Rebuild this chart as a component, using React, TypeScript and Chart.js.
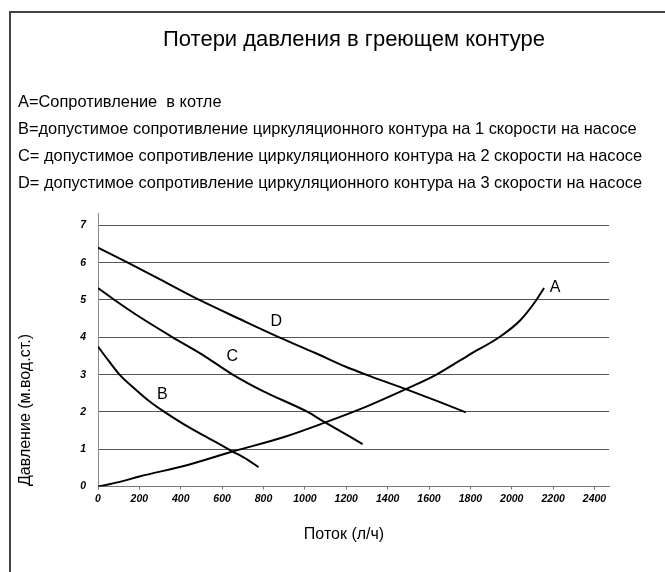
import React, { useEffect, useRef } from "react";
import { Chart, registerables } from "chart.js";

Chart.register(...registerables);

const chartTitle = "Потери давления в греющем контуре";
const legendLines = [
  "A=Сопротивление  в котле",
  "B=допустимое сопротивление циркуляционного контура на 1 скорости на насосе",
  "C= допустимое сопротивление циркуляционного контура на 2 скорости на насосе",
  "D= допустимое сопротивление циркуляционного контура на 3 скорости на насосе",
];
const xTitle = "Поток (л/ч)";
const yTitle = "Давление (м.вод.ст.)";

// Curve A: boiler resistance
const flowA = [0, 100, 200, 434, 651, 900, 1089, 1300, 1488, 1636, 1794, 1939, 2040, 2119, 2156];
const pressureA = [0, 0.12, 0.27, 0.58, 0.94, 1.33, 1.7, 2.15, 2.61, 3.0, 3.53, 4.0, 4.45, 5.0, 5.32];
// Curve B: pump speed 1
const flowB = [0, 50, 104, 184, 250, 321, 400, 490, 570, 651, 720, 776];
const pressureB = [3.75, 3.38, 3.0, 2.59, 2.28, 2.0, 1.72, 1.43, 1.19, 0.94, 0.73, 0.52];
// Curve C: pump speed 2
const flowC = [0, 80, 200, 361, 500, 651, 800, 1013, 1089, 1279];
const pressureC = [5.32, 5.0, 4.55, 4.0, 3.55, 3.0, 2.55, 2.0, 1.75, 1.14];
// Curve D: pump speed 3
const flowD = [0, 144, 300, 490, 700, 876, 1050, 1198, 1295, 1488, 1650, 1778];
const pressureD = [6.4, 6.0, 5.55, 5.0, 4.45, 4.0, 3.58, 3.21, 3.0, 2.61, 2.27, 1.99];

const curveNames = ["A", "B", "C", "D"];
const curveLabelFlow = [2209, 311, 649, 862];
const curveLabelPressure = [5.32, 2.46, 3.47, 4.41];

const xMin = 0;
const xMax = 2470;
const xStep = 200;
const yMin = 0;
const yMax = 7.33;
const yStep = 1;

const FONT = '"Liberation Sans", Arial, sans-serif';

const toPoints = (xs: number[], ys: number[]) => xs.map((x, i) => ({ x, y: ys[i] }));

const overlay = {
  id: "overlay",
  afterDraw(chart: any) {
    const ctx = chart.ctx as CanvasRenderingContext2D;
    ctx.save();
    ctx.fillStyle = "#444";
    ctx.fillRect(9, 11, 2, 572);
    ctx.fillRect(9, 11, 665, 2);

    ctx.fillStyle = "#000";
    ctx.textBaseline = "middle";
    ctx.textAlign = "center";
    ctx.font = `22px ${FONT}`;
    ctx.fillText(chartTitle, 354, 40);

    ctx.textAlign = "left";
    ctx.font = `16.4px ${FONT}`;
    legendLines.forEach((t, i) => ctx.fillText(t, 18, 102 + i * 27));

    ctx.textAlign = "center";
    ctx.font = `16px ${FONT}`;
    ctx.fillText(xTitle, 344, 535);
    ctx.save();
    ctx.translate(26, 410);
    ctx.rotate(-Math.PI / 2);
    ctx.fillText(yTitle, 0, 0);
    ctx.restore();

    const xs = chart.scales.x;
    const ys = chart.scales.y;
    ctx.font = `16px ${FONT}`;
    curveNames.forEach((n, i) => {
      ctx.fillText(n, xs.getPixelForValue(curveLabelFlow[i]), ys.getPixelForValue(curveLabelPressure[i]));
    });
    ctx.restore();
  },
};

export default function App() {
  const ref = useRef<HTMLCanvasElement>(null);
  useEffect(() => {
    if (!ref.current) return;
    const series = [
      toPoints(flowA, pressureA),
      toPoints(flowB, pressureB),
      toPoints(flowC, pressureC),
      toPoints(flowD, pressureD),
    ];
    const tickFont = { family: FONT, size: 10.5, style: "italic" as const, weight: "bold" as const };
    const chart = new Chart(ref.current, {
      type: "line",
      data: {
        datasets: series.map((d, i) => ({
          label: curveNames[i],
          data: d,
          borderColor: "#000",
          borderWidth: 2,
          pointRadius: 0,
          fill: false,
          tension: 0.4,
          cubicInterpolationMode: "monotone" as const,
        })),
      },
      options: {
        responsive: false,
        animation: false,
        layout: { padding: { left: 0, top: 213, right: 56, bottom: 55.4 } },
        plugins: { legend: { display: false }, tooltip: { enabled: false }, title: { display: false } },
        scales: {
          x: {
            type: "linear",
            min: xMin,
            max: xMax,
            ticks: {
              stepSize: xStep,
              includeBounds: false,
              autoSkip: false,
              maxRotation: 0,
              color: "#000",
              font: tickFont,
              padding: 3,
              callback: (v: any) => String(v),
            },
            grid: { drawOnChartArea: false, drawTicks: true, tickLength: 3, color: "#777" },
            border: { color: "#777", width: 1 },
            afterFit(s: any) {
              s.height = 30;
            },
          },
          y: {
            type: "linear",
            min: yMin,
            max: yMax,
            ticks: {
              stepSize: yStep,
              includeBounds: false,
              color: "#000",
              font: tickFont,
              padding: 12,
              callback: (v: any) => String(v),
            },
            grid: { drawTicks: false, color: "#555" },
            border: { color: "#888", width: 1 },
            afterFit(s: any) {
              s.width = 98;
            },
          },
        },
      },
      plugins: [overlay],
    });
    return () => chart.destroy();
  }, []);
  return (
    <div style={{ position: "absolute", left: 0, top: 0, width: 665, height: 572, background: "#fff" }}>
      <canvas ref={ref} width={665} height={572} style={{ display: "block" }} />
    </div>
  );
}
